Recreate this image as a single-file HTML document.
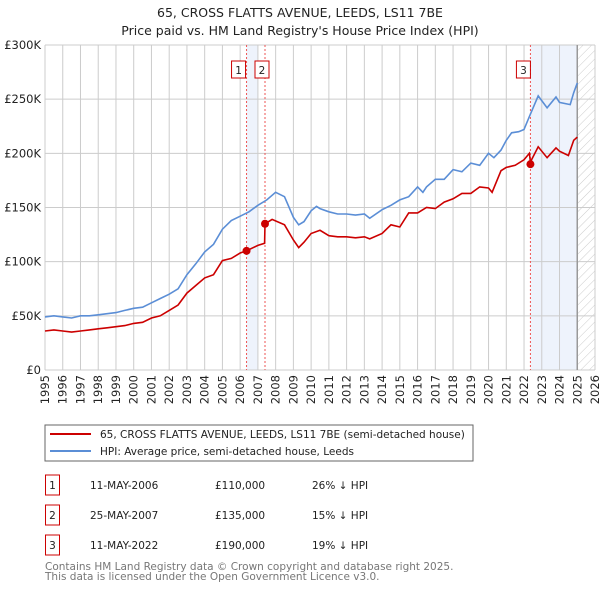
<!DOCTYPE html>
<html><head><meta charset="utf-8"><style>
body{margin:0;background:#fff;}
svg{display:block;font-family:"DejaVu Sans","Liberation Sans",sans-serif;}
</style></head><body>
<svg id="chart" width="600" height="590" viewBox="0 0 600 590">
<defs><pattern id="hatch" width="6" height="6" patternUnits="userSpaceOnUse" patternTransform="rotate(45)"><line x1="0" y1="0" x2="0" y2="6" stroke="#ccc" stroke-width="1"/></pattern></defs>
<text x="300" y="17" text-anchor="middle" font-size="12.5" fill="#222">65, CROSS FLATTS AVENUE, LEEDS, LS11 7BE</text>
<text x="300" y="35" text-anchor="middle" font-size="12.5" fill="#222">Price paid vs. HM Land Registry's House Price Index (HPI)</text>
<g id="bg"></g><g id="grid"></g><g id="series"></g><g id="axes"></g>
<rect x="45" y="425" width="428" height="36" fill="#fff" stroke="#666"/>
<line x1="50" y1="434" x2="91" y2="434" stroke="#cc0000" stroke-width="2"/>
<text x="100" y="438" font-size="10.5" fill="#222">65, CROSS FLATTS AVENUE, LEEDS, LS11 7BE (semi-detached house)</text>
<line x1="50" y1="451" x2="91" y2="451" stroke="#5b8ed6" stroke-width="2"/>
<text x="100" y="455" font-size="10.5" fill="#222">HPI: Average price, semi-detached house, Leeds</text>
<g font-size="10.5" fill="#222">
<rect x="45.5" y="475" width="14" height="20" fill="none" stroke="#cc0000"/><text x="52.5" y="489" text-anchor="middle">1</text>
<text x="90" y="489">11-MAY-2006</text><text x="215" y="489">£110,000</text><text x="312" y="489">26% ↓ HPI</text>
<rect x="45.5" y="505" width="14" height="20" fill="none" stroke="#cc0000"/><text x="52.5" y="519" text-anchor="middle">2</text>
<text x="90" y="519">25-MAY-2007</text><text x="215" y="519">£135,000</text><text x="312" y="519">15% ↓ HPI</text>
<rect x="45.5" y="535" width="14" height="20" fill="none" stroke="#cc0000"/><text x="52.5" y="549" text-anchor="middle">3</text>
<text x="90" y="549">11-MAY-2022</text><text x="215" y="549">£190,000</text><text x="312" y="549">19% ↓ HPI</text>
</g>
<text x="45" y="570" font-size="10.5" fill="#777">Contains HM Land Registry data © Crown copyright and database right 2025.</text>
<text x="45" y="580" font-size="10.5" fill="#777">This data is licensed under the Open Government Licence v3.0.</text>
</svg>
<script>
const hpiYears=[1995,1995.5,1996,1996.5,1997,1997.5,1998,1998.5,1999,1999.5,2000,2000.5,2001,2001.5,2002,2002.5,2003,2003.5,2004,2004.5,2005,2005.5,2006,2006.5,2007,2007.5,2008,2008.5,2009,2009.3,2009.6,2010,2010.3,2010.5,2011,2011.5,2012,2012.5,2013,2013.3,2014,2014.5,2015,2015.5,2016,2016.3,2016.5,2017,2017.5,2018,2018.5,2019,2019.5,2020,2020.3,2020.7,2021,2021.3,2021.7,2022,2022.3,2022.8,2023.3,2023.8,2024,2024.6,2024.8,2025];
const hpiValues=[49,50,49,48,50,50,51,52,53,55,57,58,62,66,70,75,88,98,109,116,130,138,142,146,152,157,164,160,141,134,137,147,151,149,146,144,144,143,144,140,148,152,157,160,169,164,169,176,176,185,183,191,189,200,196,203,212,219,220,222,234,253,242,252,247,245,256,265];
const priceYears=[1995,1995.5,1996,1996.5,1997,1997.5,1998,1998.5,1999,1999.5,2000,2000.5,2001,2001.5,2002,2002.5,2003,2003.5,2004,2004.5,2005,2005.5,2006,2006.36,2007,2007.38,2007.4,2007.8,2008.5,2009,2009.3,2009.6,2010,2010.5,2011,2011.5,2012,2012.5,2013,2013.3,2014,2014.5,2015,2015.5,2016,2016.5,2017,2017.5,2018,2018.5,2019,2019.5,2020,2020.2,2020.7,2021,2021.5,2022,2022.3,2022.36,2022.8,2023.3,2023.8,2024,2024.5,2024.8,2025];
const priceValues=[36,37,36,35,36,37,38,39,40,41,43,44,48,50,55,60,71,78,85,88,101,103,108,110,115,117,135,139,134,120,113,118,126,129,124,123,123,122,123,121,126,134,132,145,145,150,149,155,158,163,163,169,168,164,184,187,189,194,200,192,206,196,205,202,198,212,215];
const saleYears=[2006.36,2007.4,2022.36];
const saleValues=[110,135,190];
const saleLabels=["1","2","3"];
const yTicks=[0,50,100,150,200,250,300];
const yTickLabels=["£0","£50K","£100K","£150K","£200K","£250K","£300K"];
const yearTicks=[1995,1996,1997,1998,1999,2000,2001,2002,2003,2004,2005,2006,2007,2008,2009,2010,2011,2012,2013,2014,2015,2016,2017,2018,2019,2020,2021,2022,2023,2024,2025,2026];

const NS="http://www.w3.org/2000/svg";
const X0=45,X1=595,Y0=370,Y1=45;
const xs=y=>X0+(y-1995)/(2026-1995)*(X1-X0);
const ys=v=>Y0-v/300*(Y0-Y1);
function mk(tag,attrs,parent){const e=document.createElementNS(NS,tag);for(const k in attrs)e.setAttribute(k,attrs[k]);parent.appendChild(e);return e;}
const bg=document.getElementById('bg'),grid=document.getElementById('grid'),ser=document.getElementById('series'),ax=document.getElementById('axes');
let r=mk('rect',{x:xs(saleYears[0]),y:Y1,width:xs(2007)-xs(saleYears[0]),height:Y0-Y1,fill:'#eef3fc'},bg);


r=mk('rect',{x:xs(saleYears[2]),y:Y1,width:xs(2025)-xs(saleYears[2]),height:Y0-Y1,fill:'#eef3fc'},bg);


r=mk('rect',{x:xs(2025),y:Y1,width:X1-xs(2025),height:Y0-Y1,fill:'url(#hatch)'},bg);


yearTicks.forEach(t=>{
 const l=mk('line',{x1:xs(t),x2:xs(t),y1:Y1,y2:Y0,stroke:'#ccc'},grid);
 
 
 const px=xs(t)+4,py=Y0+5;
 const tx=mk('text',{x:px,y:py,'text-anchor':'end','font-size':11.5,fill:'#222',transform:'rotate(-90 '+px+' '+py+')'},ax);
 tx.textContent=t;
 
 
});
yTicks.forEach((t,i)=>{
 const l=mk('line',{x1:X0,x2:X1,y1:ys(t),y2:ys(t),stroke:'#ccc'},grid);
 
 
 const tx=mk('text',{x:X0-4,y:ys(t)+4,'text-anchor':'end','font-size':11.5,fill:'#222'},ax);
 tx.textContent=yTickLabels[i];
 
 
});
const edge=mk('line',{x1:xs(2025),x2:xs(2025),y1:Y1,y2:Y0,stroke:'#999','stroke-width':1.5},grid);


saleYears.forEach((y,i)=>{
 const l=mk('line',{x1:xs(y),x2:xs(y),y1:Y1,y2:Y0,stroke:'#e55','stroke-dasharray':'2,2'},ser);
 
 
});
const pts=(xa,va)=>xa.map((x,i)=>xs(x).toFixed(1)+','+ys(va[i]).toFixed(1)).join(' ');
const hp=mk('polyline',{points:pts(hpiYears,hpiValues),fill:'none',stroke:'#5b8ed6','stroke-width':1.6},ser);


const pp=mk('polyline',{points:pts(priceYears,priceValues),fill:'none',stroke:'#cc0000','stroke-width':1.6},ser);


saleYears.forEach((y,i)=>{
 const c=mk('circle',{cx:xs(y),cy:ys(saleValues[i]),r:4,fill:'#cc0000'},ser);
 
 
 const bx=(i===0)?xs(y)-8:(i===1)?xs(y)-3:xs(y)-7;
 const b=mk('rect',{x:bx-7,y:61,width:14,height:17,fill:'#fff',stroke:'#cc0000'},ser);
 
 
 const t=mk('text',{x:bx,y:74,'text-anchor':'middle','font-size':10.5,fill:'#222'},ser);
 t.textContent=saleLabels[i];
 
 
});
</script>
</body></html>
